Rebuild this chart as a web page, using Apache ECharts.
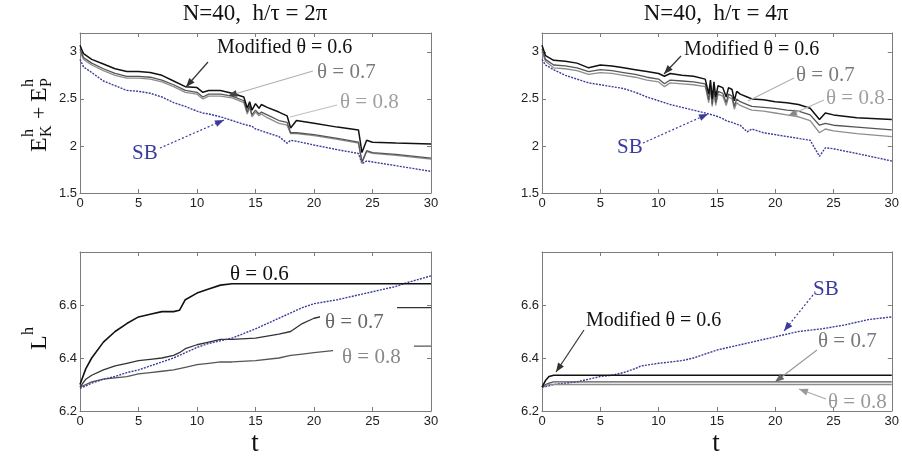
<!DOCTYPE html>
<html>
<head>
<meta charset="utf-8">
<script src="https://cdn.jsdelivr.net/npm/echarts@6/dist/echarts.min.js"></script>
<style>
  html, body { margin: 0; padding: 0; background: #fff; }
  #chart { width: 902px; height: 458px; }
</style>
</head>
<body>
<div id="chart"></div>
<script>
// ---- energy, h/tau = 2pi
const tE2 = [0, 0.3, 1, 2, 3, 4, 5, 6, 7, 8, 9, 10, 10.5, 11, 12, 13, 14, 14.3, 14.5, 14.7, 15, 15.3, 15.5, 16, 17, 17.7, 18, 18.5, 20, 22, 23.8, 24.1, 24.5, 25, 27, 30];
const e2_06 = [3.07, 2.98, 2.92, 2.87, 2.82, 2.79, 2.79, 2.78, 2.75, 2.69, 2.63, 2.62, 2.57, 2.59, 2.59, 2.56, 2.52, 2.40, 2.47, 2.38, 2.45, 2.40, 2.44, 2.41, 2.36, 2.32, 2.19, 2.27, 2.24, 2.20, 2.17, 1.93, 2.06, 2.04, 2.03, 2.02];
const e2_07 = [3.03, 2.94, 2.88, 2.82, 2.77, 2.74, 2.74, 2.73, 2.70, 2.65, 2.59, 2.57, 2.52, 2.55, 2.55, 2.53, 2.48, 2.36, 2.43, 2.33, 2.38, 2.34, 2.36, 2.33, 2.27, 2.25, 2.14, 2.14, 2.12, 2.08, 2.04, 1.83, 1.95, 1.93, 1.91, 1.87];
const e2_08 = [3.00, 2.92, 2.86, 2.80, 2.75, 2.72, 2.72, 2.71, 2.68, 2.63, 2.57, 2.55, 2.50, 2.53, 2.53, 2.51, 2.46, 2.34, 2.41, 2.31, 2.36, 2.32, 2.34, 2.30, 2.24, 2.22, 2.13, 2.13, 2.11, 2.07, 2.03, 1.82, 1.94, 1.92, 1.90, 1.86];
const e2_sb = [2.92, 2.84, 2.78, 2.69, 2.64, 2.59, 2.58, 2.56, 2.52, 2.46, 2.42, 2.37, 2.35, 2.34, 2.31, 2.27, 2.23, 2.22, 2.215, 2.21, 2.18, 2.17, 2.16, 2.14, 2.10, 2.03, 2.06, 2.05, 2.01, 1.96, 1.92, 1.81, 1.84, 1.83, 1.79, 1.73];

// ---- energy, h/tau = 4pi
const tE4 = [0, 0.3, 1, 2, 3, 4, 5, 6, 7, 8, 9, 10, 10.5, 11, 12, 13, 14, 14.3, 14.45, 14.6, 14.75, 14.9, 15.1, 15.5, 15.8, 16, 16.3, 16.5, 16.7, 17, 17.6, 18, 19, 20, 21, 22, 23, 23.8, 24.3, 25, 27, 30];
const e4_06 = [3.07, 2.96, 2.91, 2.90, 2.88, 2.83, 2.86, 2.85, 2.83, 2.81, 2.79, 2.77, 2.74, 2.77, 2.75, 2.74, 2.71, 2.55, 2.70, 2.50, 2.68, 2.52, 2.64, 2.62, 2.52, 2.62, 2.60, 2.48, 2.58, 2.55, 2.52, 2.50, 2.49, 2.47, 2.46, 2.44, 2.40, 2.28, 2.35, 2.33, 2.30, 2.28];
const e4_07 = [3.03, 2.92, 2.86, 2.85, 2.83, 2.79, 2.81, 2.80, 2.78, 2.76, 2.73, 2.71, 2.66, 2.70, 2.69, 2.68, 2.66, 2.49, 2.64, 2.44, 2.62, 2.46, 2.58, 2.56, 2.46, 2.55, 2.53, 2.42, 2.50, 2.47, 2.44, 2.42, 2.41, 2.40, 2.38, 2.37, 2.33, 2.22, 2.24, 2.22, 2.20, 2.17];
const e4_08 = [3.00, 2.90, 2.83, 2.82, 2.80, 2.76, 2.78, 2.77, 2.75, 2.73, 2.70, 2.68, 2.63, 2.67, 2.66, 2.65, 2.63, 2.46, 2.61, 2.42, 2.59, 2.43, 2.55, 2.53, 2.43, 2.52, 2.50, 2.39, 2.46, 2.43, 2.40, 2.38, 2.37, 2.35, 2.33, 2.31, 2.27, 2.14, 2.18, 2.16, 2.13, 2.10];
const e4_sb = [2.92, 2.86, 2.81, 2.75, 2.71, 2.67, 2.65, 2.63, 2.61, 2.57, 2.52, 2.48, 2.46, 2.44, 2.41, 2.38, 2.35, 2.34, 2.335, 2.33, 2.325, 2.32, 2.31, 2.29, 2.27, 2.26, 2.25, 2.24, 2.23, 2.22, 2.15, 2.18, 2.14, 2.12, 2.10, 2.08, 2.06, 1.89, 1.98, 1.97, 1.92, 1.84];

// ---- L^h, h/tau = 2pi
const tL2 = [0, 0.5, 1, 2, 3, 4, 5, 6, 7, 8, 8.5, 9, 10, 11, 12, 13, 15, 17, 18, 19, 20, 22, 25, 27, 28, 30];
const l2_06 = [6.30, 6.36, 6.40, 6.46, 6.50, 6.53, 6.555, 6.565, 6.575, 6.575, 6.58, 6.62, 6.645, 6.66, 6.675, 6.68, 6.68, 6.68, 6.68, 6.68, 6.68, 6.68, 6.68, 6.68, 6.68, 6.68];
const l2_07 = [6.29, 6.32, 6.335, 6.355, 6.37, 6.38, 6.39, 6.395, 6.40, 6.41, 6.42, 6.435, 6.45, 6.46, 6.47, 6.47, 6.475, 6.49, 6.50, 6.53, 6.55, 6.57, 6.59, 6.59, 6.59, 6.59];
const l2_08 = [6.29, 6.30, 6.31, 6.32, 6.325, 6.33, 6.34, 6.345, 6.35, 6.355, 6.36, 6.365, 6.375, 6.38, 6.385, 6.385, 6.39, 6.40, 6.41, 6.415, 6.42, 6.43, 6.44, 6.445, 6.445, 6.445];
const l2_sb = [6.285, 6.295, 6.305, 6.32, 6.33, 6.345, 6.355, 6.37, 6.385, 6.40, 6.41, 6.42, 6.44, 6.455, 6.465, 6.475, 6.51, 6.55, 6.57, 6.59, 6.605, 6.62, 6.65, 6.67, 6.685, 6.71];

// ---- L^h, h/tau = 4pi
const tL4 = [0, 0.3, 0.6, 1, 2, 3, 4, 5, 6, 7, 8, 8.5, 10, 12, 13, 15, 17, 18, 20, 22, 24, 26, 28, 30];
const l4_06 = [6.29, 6.315, 6.33, 6.335, 6.335, 6.335, 6.335, 6.335, 6.335, 6.335, 6.335, 6.335, 6.335, 6.335, 6.335, 6.335, 6.335, 6.335, 6.335, 6.335, 6.335, 6.335, 6.335, 6.335];
const l4_07 = [6.29, 6.30, 6.305, 6.31, 6.31, 6.31, 6.31, 6.31, 6.31, 6.31, 6.31, 6.31, 6.31, 6.31, 6.31, 6.31, 6.31, 6.31, 6.31, 6.31, 6.31, 6.31, 6.31, 6.31];
const l4_08 = [6.285, 6.295, 6.30, 6.30, 6.30, 6.30, 6.30, 6.30, 6.30, 6.30, 6.30, 6.30, 6.30, 6.30, 6.30, 6.30, 6.30, 6.30, 6.30, 6.30, 6.30, 6.30, 6.30, 6.30];
const l4_sb = [6.29, 6.292, 6.295, 6.30, 6.305, 6.31, 6.32, 6.33, 6.335, 6.345, 6.36, 6.37, 6.38, 6.39, 6.40, 6.43, 6.45, 6.46, 6.48, 6.50, 6.51, 6.525, 6.545, 6.555];

const titles = ['N=40,  h/\u03c4 = 2\u03c0', 'N=40,  h/\u03c4 = 4\u03c0'];

const C06 = '#111', C07 = '#555', C08 = '#8e8e8e', CSB = '#3b3b9e';
const SERIF = '"Liberation Serif", "DejaVu Serif", serif';
const SANS = '"Liberation Sans", Arial, sans-serif';
const AXC = '#7c7c7c';

const grids = [
  { left: 80, top: 33, width: 351, height: 160 },
  { left: 542, top: 33, width: 350, height: 160 },
  { left: 80, top: 252, width: 351, height: 159 },
  { left: 542, top: 252, width: 350, height: 159 }
];

const xAxis = [], yAxis = [];
const yRange = [[1.5, 3.2, 0.5], [1.5, 3.2, 0.5], [6.2, 6.8, 0.2], [6.2, 6.8, 0.2]];
grids.forEach((g, i) => {
  const tick = { show: true, inside: true, length: 4, lineStyle: { color: AXC } };
  const line = { show: true, onZero: false, lineStyle: { color: AXC, width: 1 } };
  xAxis.push({
    gridIndex: i, type: 'value', min: 0, max: 30, interval: 5, position: 'bottom',
    axisLine: line, axisTick: tick, splitLine: { show: false },
    axisLabel: { color: '#222', fontSize: 13, fontFamily: SANS, margin: 4 }
  });
  xAxis.push({
    gridIndex: i, type: 'value', min: 0, max: 30, interval: 5, position: 'top',
    axisLine: line, axisTick: tick, splitLine: { show: false }, axisLabel: { show: false }
  });
  const [mn, mx, iv] = yRange[i];
  yAxis.push({
    gridIndex: i, type: 'value', min: mn, max: mx, interval: iv, position: 'left',
    axisLine: line, axisTick: tick, splitLine: { show: false },
    axisLabel: { color: '#222', fontSize: 13, fontFamily: SANS, margin: 3, showMaxLabel: false }
  });
  yAxis.push({
    gridIndex: i, type: 'value', min: mn, max: mx, interval: iv, position: 'right',
    axisLine: line, axisTick: tick, splitLine: { show: false }, axisLabel: { show: false }
  });
});

function pairs(t, v) { return t.map((x, i) => [x, v[i]]); }
function mk(gi, t, v, color, width, dotted) {
  return {
    type: 'line', xAxisIndex: gi * 2, yAxisIndex: gi * 2, data: pairs(t, v),
    showSymbol: false, symbol: 'none', animation: false, silent: true,
    lineStyle: { color: color, width: width, type: dotted ? [2, 1.2] : 'solid' }
  };
}

const series = [
  mk(0, tE2, e2_sb, CSB, 1.4, true), mk(0, tE2, e2_08, C08, 1.3), mk(0, tE2, e2_07, C07, 1.3), mk(0, tE2, e2_06, C06, 1.5),
  mk(1, tE4, e4_sb, CSB, 1.4, true), mk(1, tE4, e4_08, C08, 1.3), mk(1, tE4, e4_07, C07, 1.3), mk(1, tE4, e4_06, C06, 1.5),
  mk(2, tL2, l2_08, C07, 1.3), mk(2, tL2, l2_07, '#333', 1.3), mk(2, tL2, l2_sb, CSB, 1.4, true), mk(2, tL2, l2_06, C06, 1.6),
  mk(3, tL4, l4_sb, CSB, 1.4, true), mk(3, tL4, l4_08, C08, 1.3), mk(3, tL4, l4_07, C07, 1.3), mk(3, tL4, l4_06, C06, 1.6)
];

// ---- annotations
const g = [];
function txt(x, y, s, color, size, align) {
  g.push({ type: 'text', z: 100, x: x, y: y,
    style: { text: s, fill: color, font: (size || 20) + 'px ' + SERIF, textAlign: align || 'left', textVerticalAlign: 'middle' } });
}
function arrow(x1, y1, x2, y2, color, dotted, head) {
  g.push({ type: 'line', z: 100, shape: { x1: x1, y1: y1, x2: x2, y2: y2 },
    style: { stroke: color, lineWidth: 1.2, lineDash: dotted ? [2, 2] : null } });
  if (head === false) return;
  const a = Math.atan2(y2 - y1, x2 - x1), L = 9, W = 3.5;
  const bx = x2 - L * Math.cos(a), by = y2 - L * Math.sin(a);
  g.push({ type: 'polygon', z: 100, shape: { points: [[x2, y2],
    [bx + W * Math.sin(a), by - W * Math.cos(a)], [bx - W * Math.sin(a), by + W * Math.cos(a)]] },
    style: { fill: head || color } });
}
function cover(x, y, w, h) {
  g.push({ type: 'rect', z: 99, shape: { x: x, y: y, width: w, height: h }, style: { fill: '#fff' } });
}

// titles and axis names
txt(255, 14, titles[0], '#111', 23, 'center');
txt(716, 14, titles[1], '#111', 23, 'center');
txt(255, 444, 't', '#111', 27, 'center');
txt(716, 444, 't', '#111', 27, 'center');

function yName(cx, cy, parts) {
  g.push({ type: 'group', x: cx, y: cy, rotation: Math.PI / 2, z: 100,
    children: parts.map(p => ({ type: 'text', x: p[1], y: p[2],
      style: { text: p[0], fill: '#111', font: p[3] + 'px ' + SERIF, textAlign: 'left', textVerticalAlign: 'middle' } })) });
}
yName(40, 108, [['E', -44, 0, 24], ['h', -29, -11, 16], ['K', -29, 7, 16], ['+', -11, 0, 22], ['E', 6, 0, 24], ['h', 21, -11, 16], ['P', 21, 7, 16]]);
yName(40, 340, [['L', -10, 0, 24], ['h', 5, -11, 16]]);

// top-left
txt(217, 48, 'Modified \u03b8 = 0.6', '#111');
arrow(208, 62, 186, 87, '#333');
txt(317, 72, '\u03b8 = 0.7', '#7a7a7a', 21);
arrow(313, 71, 228, 96, '#b0b0b0', false, '#444');
txt(340, 102, '\u03b8 = 0.8', '#a0a0a0', 21);
arrow(337, 105, 290, 117, '#c0c0c0', false, false);
txt(132, 153, 'SB', CSB, 21);
arrow(160, 148, 224, 120, CSB, true);

// top-right
txt(684, 50, 'Modified \u03b8 = 0.6', '#111');
arrow(681, 56, 664, 74, '#333');
txt(796, 75, '\u03b8 = 0.7', '#7a7a7a', 21);
arrow(794, 78, 748, 101, '#b0b0b0', false, false);
txt(826, 98, '\u03b8 = 0.8', '#a0a0a0', 21);
arrow(824, 100, 788, 116, '#b8b8b8', false, '#888');
txt(617, 147, 'SB', CSB, 21);
arrow(643, 143, 708, 114, CSB, true);

// bottom-left
txt(230, 274, '\u03b8 = 0.6', '#111', 21);
cover(320, 306, 77, 27);
txt(325, 322, '\u03b8 = 0.7', '#666', 21);
cover(333, 340, 81, 28);
txt(342, 357, '\u03b8 = 0.8', '#888', 21);

// bottom-right
txt(813, 289, 'SB', CSB, 21);
arrow(813, 295, 784, 331, CSB, true);
txt(586, 321, 'Modified \u03b8 = 0.6', '#111');
arrow(584, 330, 556, 372, '#333');
txt(818, 341, '\u03b8 = 0.7', '#777', 21);
arrow(817, 350, 775, 382, '#999', false, '#666');
txt(828, 402, '\u03b8 = 0.8', '#999', 21);
arrow(826, 399, 799, 389, '#aaa', false, '#999');

const chart = echarts.init(document.getElementById('chart'), null, { renderer: 'canvas' });
chart.setOption({
  backgroundColor: '#fff',
  animation: false,
  grid: grids,
  xAxis: xAxis,
  yAxis: yAxis,
  series: series,
  graphic: g
});
</script>
</body>
</html>
